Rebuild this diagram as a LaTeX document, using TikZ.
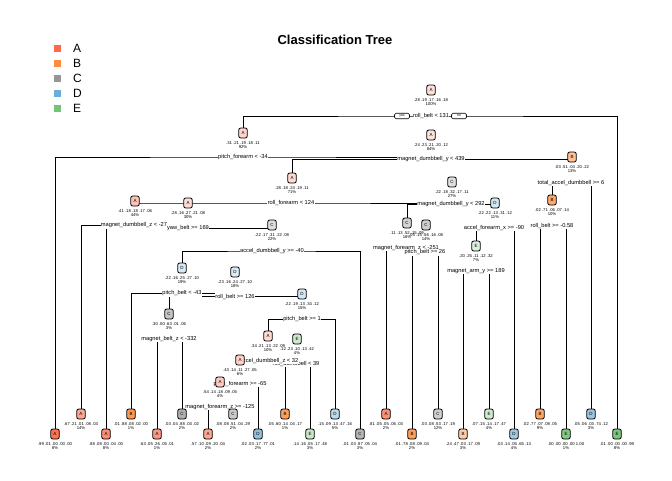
\documentclass[tikz,border=0pt]{standalone}
\usepackage{fontspec}
\setmainfont{Liberation Sans}
\usetikzlibrary{backgrounds}
\definecolor{cA}{RGB}{251,106,74}
\definecolor{cB}{RGB}{253,141,60}
\definecolor{cC}{RGB}{150,150,150}
\definecolor{cD}{RGB}{107,174,214}
\definecolor{cE}{RGB}{116,196,118}
\tikzset{
  nbox/.style={draw, line width=0.8pt, rounded corners=2pt, minimum width=8.5pt, minimum height=10pt, inner sep=0pt, font=\fontsize{4.5}{5}\selectfont},
  prob/.style={inner sep=0pt, font=\fontsize{4.2}{4.5}\selectfont},
  spl/.style={fill=white, inner sep=0.4pt, font=\fontsize{5.7}{6}\selectfont},
  ynbox/.style={draw, fill=white, line width=0.6pt, rounded corners=1.5pt, minimum width=15pt, minimum height=5.5pt, inner sep=0.3pt, font=\fontsize{3.5}{3.5}\selectfont},
  edge/.style={line width=0.9pt, black},
  legsq/.style={fill=#1, minimum size=7pt, inner sep=0pt},
  legtx/.style={anchor=west, inner sep=0pt, font=\fontsize{12}{12}\selectfont}
}
\newcommand{\tnd}[7]{%
  \node[nbox,fill=#5] (#1) at (#2,#3) {#4};
  \node[prob] (#1p) at (#2,#3+10) {#6};
  \node[prob] (#1q) at (#2,#3+14.5) {#7};
}
\begin{document}
\begin{tikzpicture}[x=1pt,y=-1pt]
\useasboundingbox (0,0) rectangle (672,480);
% title and legend
\node[font=\bfseries\fontsize{13}{13}\selectfont] (title) at (335,40) {Classification Tree};
\node[legsq=cA] (qA) at (57,48) {}; \node[legtx] (tA) at (73,48) {A};
\node[legsq=cB] (qB) at (57,63) {}; \node[legtx] (tB) at (73,63) {B};
\node[legsq=cC] (qC) at (57,78) {}; \node[legtx] (tC) at (73,78) {C};
\node[legsq=cD] (qD) at (57,93) {}; \node[legtx] (tD) at (73,93) {D};
\node[legsq=cE] (qE) at (57,108) {}; \node[legtx] (tE) at (73,108) {E};

% split labels
\node[spl] (s1) at (431,116) {roll\_belt < 131};
\node[ynbox] (yes) at (402,116) {yes};
\node[ynbox] (no) at (459,116) {no};
\node[spl] (s2) at (243,157) {pitch\_forearm < -34};
\node[spl] (s5) at (431,159.5) {magnet\_dumbbell\_y < 439};
\node[spl] (s10) at (291,203) {roll\_forearm < 124};
\node[spl] (s11) at (571,183) {total\_accel\_dumbbell >= 6};
\node[spl] (s22) at (552,226) {roll\_belt >= -0.58};
\node[spl] (s20) at (134,225.5) {magnet\_dumbbell\_z < -27};
\node[spl] (s41) at (188,228.5) {yaw\_belt >= 169};
\node[spl] (s83) at (272,251) {accel\_dumbbell\_y >= -40};
\node[spl] (sK) at (182,293.5) {pitch\_belt < -43};
\node[spl] (sP) at (235,296.5) {roll\_belt >= 126};
\node[spl] (sQ) at (169,339) {magnet\_belt\_z < -332};
\node[spl] (sR) at (302,319) {pitch\_belt >= 1};
\node[spl] (sT) at (296,364) {roll\_dumbbell < 39};
\node[spl] (sS) at (269,361) {accel\_dumbbell\_z < 32};
\node[spl] (sU) at (240,384) {pitch\_forearm >= -65};
\node[spl] (sV) at (220,407) {magnet\_forearm\_z >= -125};
\node[spl] (s21) at (451,204) {magnet\_dumbbell\_y < 292};
\node[spl] (sW) at (406,248) {magnet\_forearm\_z < -251};
\node[spl] (sX) at (425,252.5) {pitch\_belt >= 26};
\node[spl] (sY) at (494,228) {accel\_forearm\_x >= -90};
\node[spl] (sZ) at (476,271) {magnet\_arm\_y >= 189};

% internal nodes
\tnd{n1}{431}{90}{A}{cA!22}{.28 .19 .17 .16 .18}{100\%}
\tnd{n2}{243}{133}{A}{cA!28}{.31 .21 .19 .18 .11}{92\%}
\tnd{n5}{431}{135}{A}{cA!20}{.24 .23 .21 .20 .12}{84\%}
\tnd{n10}{292}{178}{A}{cA!25}{.28 .18 .24 .19 .11}{71\%}
\tnd{n11}{572}{157}{B}{cB!55}{.03 .51 .04 .20 .22}{13\%}
\tnd{n22}{552}{200}{B}{cB!75}{.02 .71 .06 .07 .14}{10\%}
\tnd{n20}{135}{201}{A}{cA!40}{.41 .18 .18 .17 .06}{44\%}
\tnd{n41}{188}{203}{A}{cA!22}{.28 .16 .27 .21 .08}{30\%}
\tnd{n83}{272}{225}{C}{cC!30}{.22 .17 .31 .22 .08}{22\%}
\tnd{nK}{182}{268}{D}{cD!25}{.22 .16 .25 .27 .10}{19\%}
\tnd{nP}{235}{272}{D}{cD!25}{.23 .16 .24 .27 .10}{18\%}
\tnd{nQ}{169}{314}{C}{cC!55}{.30 .00 .63 .01 .06}{3\%}
\tnd{nR}{302}{294}{D}{cD!28}{.22 .19 .13 .34 .12}{15\%}
\tnd{nS}{268}{336}{A}{cA!25}{.34 .21 .13 .22 .09}{10\%}
\tnd{nT}{297}{339}{E}{cE!35}{.12 .23 .10 .13 .42}{4\%}
\tnd{nU}{240}{360}{A}{cA!30}{.43 .14 .11 .27 .05}{6\%}
\tnd{nV}{220}{382}{A}{cA!35}{.54 .14 .18 .09 .05}{4\%}
\tnd{n21}{452}{182}{C}{cC!30}{.22 .18 .32 .17 .11}{27\%}
\tnd{nW}{407}{223}{C}{cC!40}{.11 .13 .52 .15 .09}{16\%}
\tnd{nX}{426}{225}{C}{cC!45}{.05 .15 .56 .16 .08}{14\%}
\tnd{nY}{495}{203}{D}{cD!30}{.22 .22 .13 .31 .12}{11\%}
\tnd{nZ}{476}{246}{E}{cE!25}{.20 .25 .11 .12 .32}{7\%}

% leaves
\tnd{L0}{55}{434}{A}{cA!95}{.99 .01 .00 .00 .00}{8\%}
\tnd{L1}{81}{414}{A}{cA!60}{.67 .21 .01 .08 .03}{14\%}
\tnd{L2}{106}{434}{A}{cA!78}{.88 .08 .00 .04 .00}{8\%}
\tnd{L3}{131}{414}{B}{cB!90}{.01 .88 .08 .02 .00}{1\%}
\tnd{L4}{157}{434}{A}{cA!70}{.63 .05 .26 .05 .01}{1\%}
\tnd{L5}{182}{414}{C}{cC!75}{.03 .04 .88 .03 .02}{2\%}
\tnd{L6}{208}{434}{A}{cA!60}{.57 .10 .09 .20 .04}{2\%}
\tnd{L7}{233}{414}{C}{cC!50}{.08 .08 .51 .04 .29}{2\%}
\tnd{L8}{258}{434}{D}{cD!75}{.02 .03 .17 .77 .01}{2\%}
\tnd{L9}{285}{414}{B}{cB!85}{.05 .60 .14 .04 .17}{1\%}
\tnd{L10}{310}{434}{E}{cE!40}{.14 .16 .05 .17 .48}{3\%}
\tnd{L11}{335}{414}{D}{cD!45}{.15 .09 .13 .47 .16}{5\%}
\tnd{L12}{360}{434}{C}{cC!70}{.01 .03 .87 .05 .04}{3\%}
\tnd{L13}{386}{414}{A}{cA!75}{.81 .05 .05 .06 .03}{2\%}
\tnd{L14}{412}{434}{B}{cB!85}{.01 .78 .08 .09 .04}{2\%}
\tnd{L15}{438}{414}{C}{cC!45}{.03 .08 .53 .17 .19}{12\%}
\tnd{L16}{463}{434}{B}{cB!45}{.24 .47 .03 .17 .09}{3\%}
\tnd{L17}{489}{414}{E}{cE!35}{.07 .15 .14 .17 .47}{4\%}
\tnd{L18}{514}{434}{D}{cD!65}{.03 .14 .05 .65 .13}{4\%}
\tnd{L19}{540}{414}{B}{cB!80}{.02 .77 .07 .08 .05}{9\%}
\tnd{L20}{566}{434}{E}{cE!90}{.00 .00 .00 .00 1.00}{1\%}
\tnd{L21}{591}{414}{D}{cD!70}{.05 .06 .03 .74 .12}{3\%}
\tnd{L22}{617}{434}{E}{cE!95}{.01 .00 .00 .00 .99}{8\%}

\begin{pgfonlayer}{background}
\draw[edge] (n2.north) |- (s1.center) -| (L22.north);
\draw[edge] (L0.north) |- (s2.center) -- (s2 -| n5);
\draw[edge] (n10.north) |- (s5.center) -- (s5 -| n11);
\draw[edge] (s10 -| n20) -- (s10.center) -- (s10 -| n21);
\draw[edge] (n22.north) |- (s11.center) -| (L21.north);
\draw[edge] (L19.north) |- (s22.center) -| (L20.north);
\draw[edge] (L1.north) |- (s20.center) -- (s20 -| n41);
\draw[edge] (L2.north) |- (s41.center) -- (s41 -| n83);
\draw[edge] (nK.north) |- (s83.center) -| (L12.north);
\draw[edge] (L3.north) |- (sK.center) -- (sK -| nP);
\draw[edge] (nQ.north) |- (sP.center) -- (sP -| nR);
\draw[edge] (L4.north) |- (sQ.center) -| (L5.north);
\draw[edge] (nS.north) |- (sR.center) -| (L11.north);
\draw[edge] (sS -| nU) -- (sS.center) -- (sS -| nT);
\draw[edge] (L9.north) |- (sT.center) -| (L10.north);
\draw[edge] (sU -| nV) -- (sU.center) -| (L8.north);
\draw[edge] (L6.north) |- (sV.center) -| (L7.north);
\draw[edge] (nW.north) |- (s21.center) -- (s21 -| nY);
\draw[edge] (L13.north) |- (sW.center) -- (sW -| nX);
\draw[edge] (L14.north) |- (sX.center) -| (L15.north);
\draw[edge] (nZ.north) |- (sY.center) -| (L18.north);
\draw[edge] (L16.north) |- (sZ.center) -| (L17.north);
\end{pgfonlayer}
\end{tikzpicture}
\end{document}
